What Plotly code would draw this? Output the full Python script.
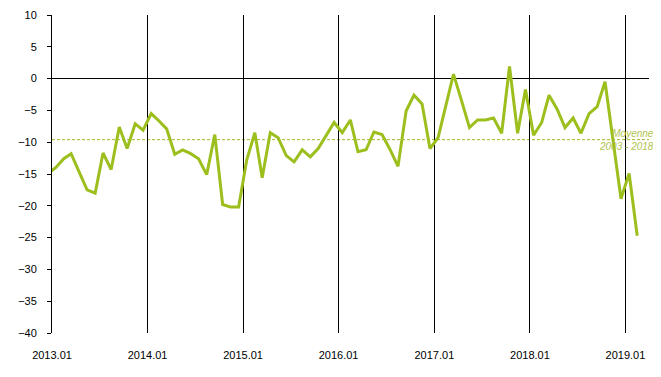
import plotly.graph_objects as go
import pandas as pd

# Monthly values, 2012.12 (clipped at left edge) through 2019.02
months = pd.date_range("2012-12-01", periods=75, freq="MS") + pd.Timedelta(days=14)
values = [
    -15.0,
    -14.0, -12.6, -11.8, -14.7, -17.5, -18.0, -11.7, -14.3, -7.6, -11.0, -7.1, -8.1,   # 2013
    -5.5, -6.7, -7.9, -11.9, -11.2, -11.8, -12.6, -15.1, -8.8, -19.8, -20.2, -20.2,   # 2014
    -12.8, -8.5, -15.6, -8.5, -9.3, -12.1, -13.1, -11.2, -12.3, -11.0, -8.8, -6.9,    # 2015
    -8.5, -6.5, -11.5, -11.2, -8.4, -8.8, -11.1, -13.8, -5.1, -2.6, -4.0, -11.0,      # 2016
    -9.3, -4.0, 0.7, -3.5, -7.7, -6.5, -6.5, -6.2, -8.6, 1.9, -8.6, -1.7,             # 2017
    -8.9, -6.9, -2.6, -4.8, -7.7, -6.2, -8.6, -5.5, -4.4, -0.5, -10.0, -18.9,         # 2018
    -14.9, -24.7,                                                                      # 2019
]
mean_value = -9.6
mean_label = "<i>Moyenne</i><br><i>2003 - 2018</i>"

line_color = "#9cbf1e"
font_family = "Liberation Sans, Arial, sans-serif"

fig = go.Figure()
fig.add_shape(type="line", xref="paper", x0=0, x1=1, yref="y", y0=mean_value, y1=mean_value,
              line=dict(color="#a2b826", width=1, dash="3px,2px"), layer="below")
fig.add_trace(go.Scatter(x=months, y=values, mode="lines",
                         line=dict(color=line_color, width=3), showlegend=False,
                         hoverinfo="skip"))
fig.add_annotation(xref="paper", yref="y", x=1.0117, y=mean_value, text=mean_label,
                   showarrow=False, xanchor="right", yanchor="middle", align="right",
                   font=dict(family=font_family, size=10, color="#afc452"))

# page body has an 8px margin, so the figure is sized to fit the window
fig.update_layout(
    width=653, height=369,
    margin=dict(l=44, r=12, t=7, b=44, autoexpand=False),
    paper_bgcolor="white", plot_bgcolor="white",
    font=dict(family=font_family, size=11, color="black"),
    xaxis=dict(
        type="date",
        range=["2013-01-01", "2019-04-01"],
        tick0="2013-01-01", dtick="M12", tickformat="%Y.%m",
        showgrid=True, gridcolor="black", gridwidth=1,
        showline=False, zeroline=False, ticks="",
        ticklabelstandoff=14, automargin=False,
    ),
    yaxis=dict(
        range=[-40, 10], dtick=5, tick0=0,
        showgrid=False, showline=True, linecolor="black", linewidth=1,
        ticks="outside", ticklen=4, tickcolor="black",
        zeroline=True, zerolinecolor="black", zerolinewidth=1,
        ticklabelstandoff=8, automargin=False,
    ),
)

fig.write_html("out.html")
